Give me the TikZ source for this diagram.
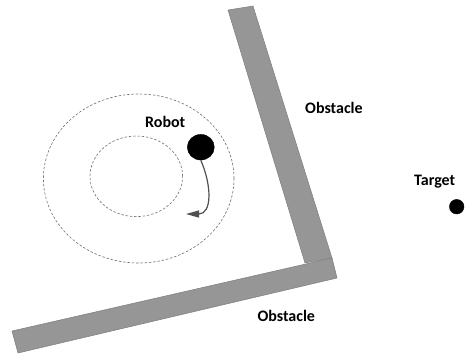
\documentclass[tikz,border=0pt]{standalone}
\usepackage{fontspec}
\setmainfont{Carlito}
\usetikzlibrary{shapes.geometric,arrows.meta}
\definecolor{obst}{RGB}{150,150,150}
\definecolor{obstedge}{RGB}{125,125,125}
\definecolor{dashc}{RGB}{110,110,110}
\definecolor{arrc}{RGB}{80,80,80}
\tikzset{
  obstacle/.style={fill=obst,draw=obstedge,line width=0.5pt},
  zone/.style={draw=dashc,line width=0.6pt,dash pattern=on 2.5pt off 1.8pt},
  lbl/.style={font=\fontsize{16}{18}\selectfont\bfseries,inner sep=0pt,anchor=base west},
  dot/.style={fill=black,draw=black,inner sep=0pt},
  move/.style={draw=arrc,line width=1.2pt,-{Triangle[length=13pt,width=7pt]}}
}
\begin{document}
\begin{tikzpicture}[x=1pt,y=-1pt]
\useasboundingbox (0,0) rectangle (465,354);
% obstacles
\fill[obstacle] (228,10) -- (253,6) -- (332,258) -- (305,263) -- cycle;
\fill[obstacle] (12,331) -- (332,258) -- (337,278) -- (18,353) -- cycle;
% zones
\draw[zone] (138.7,178.5) ellipse [x radius=95.3pt, y radius=84.5pt];
\draw[zone] (136.3,176.3) ellipse [x radius=46.3pt, y radius=40.3pt];
% robot and target
\node[dot,ellipse,minimum width=27pt,minimum height=25.6pt] (robot) at (200.8,147.2) {};
\node[dot,circle,minimum size=14.6pt] (target) at (456.7,206.7) {};
\coordinate (tip) at (186,214);
\draw[move] (robot.south) .. controls (212,186) and (212,214) .. (tip);
% labels
\node[lbl] (robotlbl) at (145,127.7) {Robot};
\node[lbl] (targetlbl) at (414,185.5) {Target};
\node[lbl] (obst1) at (305,113.3) {Obstacle};
\node[lbl] (obst2) at (257.3,321.5) {Obstacle};
\end{tikzpicture}
\end{document}
